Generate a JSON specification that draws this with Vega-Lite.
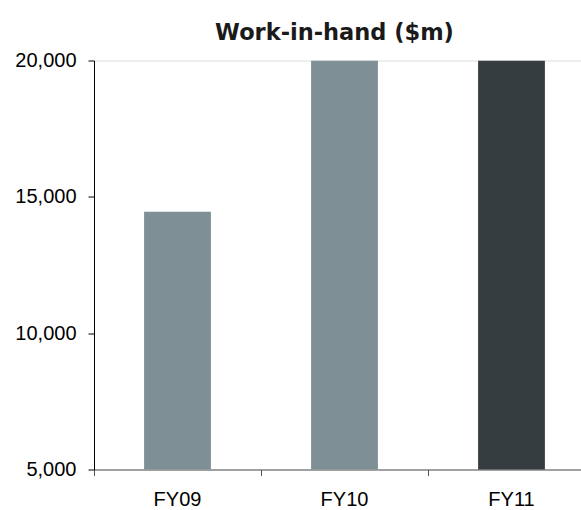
{
  "$schema": "https://vega.github.io/schema/vega-lite/v6.json",
  "autosize": {"type": "none"},
  "padding": {"left": 94, "top": 60.5, "right": 0, "bottom": 40.5},
  "width": 487,
  "height": 409,
  "background": "white",
  "title": {
    "text": "Work-in-hand ($m)",
    "font": "DejaVu Sans",
    "fontSize": 22.5,
    "fontWeight": "bold",
    "color": "#1a1a1a",
    "anchor": "middle",
    "frame": "group",
    "baseline": "alphabetic",
    "offset": -12,
    "dx": -3
  },
  "data": {
    "values": [
      {"year": "FY09", "value": 14450, "group": "prior"},
      {"year": "FY10", "value": 20000, "group": "prior"},
      {"year": "FY11", "value": 20000, "group": "current"}
    ]
  },
  "mark": {"type": "bar", "width": {"band": 0.4}, "clip": true},
  "encoding": {
    "x": {
      "field": "year",
      "type": "nominal",
      "sort": null,
      "scale": {"paddingInner": 0, "paddingOuter": 0, "range": [0, 501]},
      "axis": {
        "title": null,
        "labelAngle": 0,
        "bandPosition": 0,
        "domainColor": "#555555",
        "tickColor": "#555555",
        "tickSize": 6,
        "labelFont": "Liberation Sans",
        "labelFontSize": 20,
        "labelColor": "#000000",
        "labelPadding": 14
      }
    },
    "y": {
      "field": "value",
      "type": "quantitative",
      "scale": {"domain": [5000, 20000], "zero": false, "nice": false},
      "axis": {
        "title": null,
        "values": [5000, 10000, 15000, 20000],
        "format": ",d",
        "grid": false,
        "domainColor": "#000000",
        "tickColor": "#000000",
        "tickSize": 6,
        "labelFont": "Liberation Sans",
        "labelFontSize": 20,
        "labelColor": "#000000",
        "labelPadding": 12
      }
    },
    "color": {
      "field": "group",
      "type": "nominal",
      "scale": {"domain": ["prior", "current"], "range": ["#7F8F96", "#363D40"]},
      "legend": null
    }
  }
}
